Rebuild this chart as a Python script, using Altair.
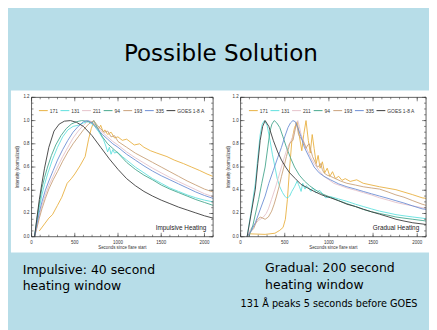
import altair as alt
import pandas as pd

# ---------------- data ----------------
SERIES = ["171", "131", "211", "94", "193", "335", "GOES 1-8 A"]
COLORS = ["#E8B040", "#5FE0DE", "#E5C2CA", "#46A68C", "#C8A078", "#6C8ED4", "#3A3A3A"]

# Impulsive heating (left panel)
imp_171_t = [90, 150, 200, 242, 300, 350, 412, 460, 500, 560, 620, 660, 690, 715, 740, 780, 800, 830, 848, 880, 920, 960, 999, 1050, 1100, 1188, 1250, 1300, 1377, 1450, 1566, 1650, 1756, 1850, 1945, 2030, 2096]
imp_171_v = [0.05, 0.11, 0.16, 0.19, 0.27, 0.34, 0.46, 0.5, 0.54, 0.61, 0.69, 0.84, 0.93, 0.98, 0.95, 0.93, 0.96, 0.9, 0.92, 0.88, 0.9, 0.85, 0.86, 0.83, 0.84, 0.79, 0.8, 0.77, 0.74, 0.72, 0.69, 0.66, 0.63, 0.6, 0.57, 0.54, 0.52]
imp_131_t = [35, 60, 90, 120, 150, 190, 240, 300, 360, 420, 480, 540, 600, 660, 720, 780, 830, 860, 880, 900, 920, 940, 960, 990, 1050, 1100, 1200, 1300, 1400, 1500, 1600, 1700, 1800, 1900, 2000, 2100]
imp_131_v = [0.0, 0.12, 0.25, 0.36, 0.45, 0.55, 0.66, 0.77, 0.86, 0.92, 0.95, 0.96, 0.98, 0.99, 0.96, 0.9, 0.84, 0.78, 0.73, 0.77, 0.71, 0.75, 0.72, 0.73, 0.69, 0.66, 0.6, 0.55, 0.5, 0.46, 0.42, 0.39, 0.36, 0.335, 0.315, 0.3]
imp_211_t = [35, 60, 90, 120, 160, 200, 250, 300, 360, 420, 480, 540, 600, 660, 700, 760, 820, 880, 940, 1000, 1100, 1200, 1300, 1400, 1500, 1600, 1700, 1800, 1900, 2000, 2100]
imp_211_v = [0.0, 0.08, 0.18, 0.27, 0.36, 0.44, 0.52, 0.6, 0.69, 0.77, 0.85, 0.91, 0.96, 1.0, 0.99, 0.95, 0.9, 0.86, 0.82, 0.79, 0.73, 0.68, 0.635, 0.59, 0.55, 0.51, 0.475, 0.44, 0.405, 0.37, 0.345]
imp_94_t = [35, 60, 90, 120, 150, 185, 230, 280, 340, 400, 460, 520, 580, 640, 700, 720, 760, 820, 880, 940, 1000, 1100, 1200, 1300, 1400, 1500, 1600, 1700, 1800, 1900, 2000, 2100]
imp_94_v = [0.0, 0.14, 0.29, 0.42, 0.51, 0.6, 0.7, 0.79, 0.87, 0.93, 0.97, 0.99, 1.0, 0.995, 0.98, 1.0, 0.94, 0.86, 0.8, 0.76, 0.72, 0.64, 0.58, 0.53, 0.49, 0.445, 0.41, 0.38, 0.35, 0.32, 0.295, 0.27]
imp_193_t = [35, 60, 90, 120, 160, 200, 250, 300, 360, 420, 480, 540, 600, 660, 720, 760, 800, 840, 880, 920, 960, 1000, 1100, 1200, 1300, 1400, 1500, 1600, 1700, 1800, 1900, 2000, 2100]
imp_193_v = [0.0, 0.07, 0.16, 0.24, 0.33, 0.41, 0.49, 0.56, 0.65, 0.73, 0.8, 0.86, 0.92, 0.97, 1.0, 0.96, 0.93, 0.9, 0.91, 0.86, 0.87, 0.82, 0.77, 0.72, 0.68, 0.64, 0.6, 0.56, 0.52, 0.48, 0.445, 0.41, 0.385]
imp_335_t = [35, 60, 90, 120, 160, 200, 250, 300, 360, 420, 480, 540, 600, 650, 700, 760, 820, 880, 940, 1000, 1100, 1200, 1300, 1400, 1500, 1600, 1700, 1800, 1900, 2000, 2100]
imp_335_v = [0.0, 0.1, 0.21, 0.3, 0.4, 0.48, 0.57, 0.66, 0.75, 0.83, 0.9, 0.95, 0.99, 1.0, 0.98, 0.93, 0.88, 0.84, 0.8, 0.77, 0.71, 0.66, 0.61, 0.565, 0.525, 0.49, 0.455, 0.42, 0.385, 0.355, 0.33]
imp_goes_t = [35, 60, 90, 120, 150, 200, 260, 320, 380, 450, 520, 600, 700, 800, 900, 1000, 1100, 1200, 1300, 1400, 1500, 1600, 1700, 1800, 1900, 2000, 2100]
imp_goes_v = [0.0, 0.15, 0.32, 0.46, 0.59, 0.77, 0.91, 0.97, 0.995, 1.0, 0.985, 0.95, 0.87, 0.77, 0.67, 0.58, 0.5, 0.44, 0.39, 0.35, 0.315, 0.285, 0.255, 0.23, 0.205, 0.18, 0.16]

# Gradual heating (right panel)
grad_171_t = [93, 278, 389, 444, 481, 507, 530, 556, 581, 611, 641, 667, 693, 715, 741, 767, 789, 811, 833, 856, 878, 900, 926, 952, 981, 1011, 1041, 1074, 1111, 1148, 1185, 1241, 1315, 1389, 1574, 1759, 1944, 2055, 2100]
grad_171_v = [0.025, 0.02, 0.03, 0.055, 0.08, 0.15, 0.32, 0.6, 0.83, 0.94, 0.99, 0.86, 0.74, 0.88, 1.0, 0.83, 0.72, 0.88, 0.76, 0.63, 0.7, 0.59, 0.645, 0.55, 0.59, 0.52, 0.56, 0.5, 0.52, 0.485, 0.5, 0.476, 0.49, 0.46, 0.43, 0.405, 0.363, 0.335, 0.33]
grad_131_t = [74, 120, 167, 195, 222, 245, 270, 300, 333, 360, 389, 415, 444, 475, 500, 519, 540, 556, 580, 611, 641, 655, 667, 685, 704, 718, 730, 745, 759, 778, 796, 815, 833, 850, 870, 890, 907, 935, 963, 1018, 1110, 1204, 1300, 1389, 1480, 1574, 1670, 1759, 1850, 1950, 2055, 2100]
grad_131_v = [0.0, 0.22, 0.46, 0.68, 0.88, 0.97, 1.0, 0.96, 0.83, 0.71, 0.6, 0.5, 0.43, 0.38, 0.35, 0.335, 0.34, 0.35, 0.39, 0.43, 0.48, 0.45, 0.43, 0.39, 0.46, 0.43, 0.41, 0.44, 0.43, 0.41, 0.39, 0.42, 0.41, 0.38, 0.38, 0.4, 0.39, 0.36, 0.335, 0.345, 0.325, 0.305, 0.28, 0.26, 0.24, 0.22, 0.205, 0.19, 0.18, 0.17, 0.16, 0.155]
grad_211_t = [74, 110, 148, 204, 259, 290, 315, 350, 389, 425, 463, 490, 519, 545, 574, 595, 611, 630, 648, 665, 685, 720, 759, 795, 833, 890, 944, 1000, 1055, 1130, 1204, 1300, 1389, 1480, 1574, 1670, 1759, 1850, 1950, 2055, 2100]
grad_211_v = [0.0, 0.06, 0.1, 0.14, 0.17, 0.2, 0.24, 0.32, 0.41, 0.5, 0.6, 0.67, 0.74, 0.79, 0.83, 0.87, 0.91, 0.96, 1.0, 0.95, 0.88, 0.81, 0.74, 0.68, 0.63, 0.57, 0.52, 0.49, 0.46, 0.44, 0.42, 0.4, 0.38, 0.36, 0.335, 0.315, 0.295, 0.28, 0.265, 0.25, 0.245]
grad_94_t = [93, 140, 204, 240, 278, 310, 333, 355, 381, 410, 444, 480, 519, 565, 611, 665, 722, 780, 833, 920, 1018, 1110, 1204, 1300, 1389, 1480, 1574, 1670, 1759, 1850, 1950, 2055, 2100]
grad_94_v = [0.0, 0.1, 0.32, 0.46, 0.6, 0.78, 0.91, 0.97, 1.0, 0.98, 0.94, 0.86, 0.77, 0.68, 0.6, 0.53, 0.48, 0.44, 0.41, 0.37, 0.34, 0.31, 0.285, 0.26, 0.235, 0.215, 0.2, 0.185, 0.17, 0.16, 0.15, 0.14, 0.135]
grad_193_t = [74, 110, 148, 185, 222, 250, 278, 315, 352, 380, 407, 435, 463, 490, 519, 540, 556, 575, 593, 612, 630, 645, 656, 680, 704, 722, 741, 760, 778, 797, 815, 845, 870, 890, 907, 925, 944, 980, 1018, 1075, 1130, 1204, 1300, 1389, 1480, 1574, 1670, 1759, 1850, 1950, 2055, 2100]
grad_193_v = [0.0, 0.04, 0.07, 0.14, 0.17, 0.16, 0.15, 0.17, 0.22, 0.28, 0.35, 0.43, 0.52, 0.6, 0.69, 0.75, 0.8, 0.82, 0.83, 0.9, 0.98, 0.93, 0.88, 0.85, 0.83, 0.8, 0.76, 0.79, 0.8, 0.74, 0.69, 0.64, 0.6, 0.61, 0.63, 0.58, 0.55, 0.53, 0.52, 0.5, 0.48, 0.46, 0.445, 0.43, 0.42, 0.41, 0.385, 0.36, 0.34, 0.31, 0.28, 0.27]
grad_335_t = [74, 120, 167, 220, 278, 320, 370, 420, 463, 500, 537, 565, 593, 620, 648, 685, 722, 780, 833, 890, 944, 1018, 1110, 1204, 1300, 1389, 1480, 1574, 1670, 1759, 1850, 1950, 2055, 2100]
grad_335_v = [0.0, 0.05, 0.12, 0.23, 0.35, 0.46, 0.57, 0.68, 0.77, 0.86, 0.94, 0.98, 1.0, 0.99, 0.94, 0.86, 0.77, 0.68, 0.6, 0.55, 0.52, 0.49, 0.455, 0.43, 0.41, 0.39, 0.37, 0.35, 0.33, 0.31, 0.29, 0.265, 0.24, 0.235]
grad_goes_t = [74, 120, 167, 195, 222, 250, 278, 320, 370, 420, 463, 510, 556, 620, 685, 760, 833, 920, 1018, 1110, 1204, 1300, 1389, 1480, 1574, 1670, 1759, 1850, 1950, 2055, 2100]
grad_goes_v = [0.0, 0.2, 0.41, 0.63, 0.83, 0.95, 1.0, 0.95, 0.83, 0.73, 0.66, 0.6, 0.55, 0.5, 0.45, 0.42, 0.39, 0.36, 0.335, 0.31, 0.28, 0.26, 0.237, 0.215, 0.194, 0.172, 0.15, 0.135, 0.12, 0.11, 0.105]

X_TICKS = [0, 500, 1000, 1500, 2000]
X_TICK_LABELS = ["0", "500", "1000", "1500", "2000"]
X_MINOR = [0, 100, 200, 300, 400, 500, 600, 700, 800, 900, 1000, 1100, 1200, 1300, 1400, 1500, 1600, 1700, 1800, 1900, 2000, 2100]
Y_TICKS = [0.0, 0.2, 0.4, 0.6, 0.8, 1.0, 1.2]
Y_TICK_LABELS = ["0.0", "0.2", "0.4", "0.6", "0.8", "1.0", "1.2"]
Y_MINOR = [0.0, 0.05, 0.1, 0.15, 0.2, 0.25, 0.3, 0.35, 0.4, 0.45, 0.5, 0.55, 0.6, 0.65, 0.7, 0.75, 0.8, 0.85, 0.9, 0.95, 1.0, 1.05, 1.1, 1.15, 1.2]

IMPULSIVE = [(imp_171_t, imp_171_v), (imp_131_t, imp_131_v), (imp_211_t, imp_211_v), (imp_94_t, imp_94_v),
             (imp_193_t, imp_193_v), (imp_335_t, imp_335_v), (imp_goes_t, imp_goes_v)]
GRADUAL = [(grad_171_t, grad_171_v), (grad_131_t, grad_131_v), (grad_211_t, grad_211_v), (grad_94_t, grad_94_v),
           (grad_193_t, grad_193_v), (grad_335_t, grad_335_v), (grad_goes_t, grad_goes_v)]

# ---------------- layout ----------------
W, H = 429, 322
BG = "#B7DDE8"
FONT = "DejaVu Sans"
PFONT = "Liberation Sans"
INK = "#3a3a3a"
P_TOP, P_BOT = 88, 230
LEFT_X = (24, 209)
RIGHT_X = (237, 426)

one = pd.DataFrame({"k": [0]})
yscale = alt.Scale(domain=[0, 1.2], range=[P_BOT, P_TOP], nice=False, zero=False)


def to_df(curves):
    rows = []
    for name, (ts, vs) in zip(SERIES, curves):
        for t, v in zip(ts, vs):
            rows.append({"series": name, "t": t, "v": v})
    return pd.DataFrame(rows)


def text(s, x, y, size, font=FONT, align="left", angle=0, color="black", baseline="alphabetic"):
    return alt.Chart(one).mark_text(
        text=s, fontSize=size, font=font, align=align, angle=angle, color=color, baseline=baseline
    ).encode(x=alt.value(x), y=alt.value(y))


def panel(curves, xr, legend_x, label, ytitle_x, xtitle_x):
    xs = alt.Scale(domain=[0, 2100], range=list(xr), nice=False, zero=False)
    X = lambda: alt.X("t:Q", scale=xs, axis=None)
    Y = lambda: alt.Y("v:Q", scale=yscale, axis=None)
    layers = []
    lines = alt.Chart(to_df(curves)).mark_line(strokeWidth=0.9).encode(
        x=X(), y=Y(),
        color=alt.Color(
            "series:N", title=None,
            scale=alt.Scale(domain=SERIES, range=COLORS),
            legend=alt.Legend(
                orient="none", legendX=legend_x, legendY=96.5, direction="horizontal",
                symbolType="stroke", symbolSize=81, symbolStrokeWidth=1,
                labelFontSize=5, labelFont=PFONT, labelOffset=1.5, columnPadding=0,
                padding=0, labelColor="#333",
            ),
        ),
    )
    layers.append(lines)
    layers.append(alt.Chart(one).mark_rect(fillOpacity=0, stroke=INK, strokeWidth=0.8).encode(
        x=alt.value(xr[0]), x2=alt.value(xr[1]), y=alt.value(P_TOP), y2=alt.value(P_BOT)))
    xt = pd.DataFrame({"t": X_TICKS, "lab": X_TICK_LABELS})
    xm = pd.DataFrame({"t": X_MINOR})
    yt = pd.DataFrame({"v": Y_TICKS, "lab": Y_TICK_LABELS})
    ym = pd.DataFrame({"v": Y_MINOR})
    rule = dict(color=INK, strokeWidth=0.6)
    for d, ln in ((xt, 4), (xm, 2)):
        layers.append(alt.Chart(d).mark_rule(**rule).encode(x=X(), y=alt.value(P_BOT - ln), y2=alt.value(P_BOT)))
        layers.append(alt.Chart(d).mark_rule(**rule).encode(x=X(), y=alt.value(P_TOP), y2=alt.value(P_TOP + ln)))
    for d, ln in ((yt, 4), (ym, 2)):
        layers.append(alt.Chart(d).mark_rule(**rule).encode(y=Y(), x=alt.value(xr[0]), x2=alt.value(xr[0] + ln)))
        layers.append(alt.Chart(d).mark_rule(**rule).encode(y=Y(), x=alt.value(xr[1] - ln), x2=alt.value(xr[1])))
    layers.append(alt.Chart(xt).mark_text(fontSize=4.5, font=PFONT, color="#333", baseline="middle").encode(
        x=X(), y=alt.value(P_BOT + 6), text="lab:N"))
    layers.append(alt.Chart(yt).mark_text(fontSize=4.5, font=PFONT, color="#333", align="right", baseline="middle").encode(
        y=Y(), x=alt.value(xr[0] - 2), text="lab:N"))
    layers.append(text("Seconds since flare start", xtitle_x, P_BOT + 11.5, 4.5, font=PFONT, align="center", color="#333", baseline="middle"))
    layers.append(text("Intensity (normalized)", ytitle_x, (P_TOP + P_BOT) / 2, 4.5, font=PFONT, align="center", angle=270, color="#333", baseline="middle"))
    layers.append(text(label, xr[1] - 7, 223, 6.5, font=PFONT, align="right", color="#222"))
    return layers


layers = [
    alt.Chart(one).mark_rect(color="white").encode(
        x=alt.value(3), x2=alt.value(W), y=alt.value(81), y2=alt.value(246)),
    text("Possible Solution", 217, 51.3, 23.5, align="center"),
]
layers += panel(IMPULSIVE, LEFT_X, 31, "Impulsive Heating", 10, (LEFT_X[0] + LEFT_X[1]) / 2)
layers += panel(GRADUAL, RIGHT_X, 245, "Gradual Heating", 225, (RIGHT_X[0] + RIGHT_X[1]) / 2)
layers += [
    text("Impulsive: 40 second", 15, 267.5, 12.7),
    text("heating window", 15, 283.8, 12.7),
    text("Gradual: 200 second", 262, 266, 12.7),
    text("heating window", 262, 283, 12.7),
    text("131 Å peaks 5 seconds before GOES", 237, 302, 9.9),
]

chart = alt.layer(*layers).resolve_scale(
    x="independent", y="independent", color="independent"
).properties(
    width=W, height=H, padding=0, autosize="none", background=BG
).configure_view(stroke="transparent")

chart.save("out.html", embed_options={"renderer": "svg", "actions": False})
